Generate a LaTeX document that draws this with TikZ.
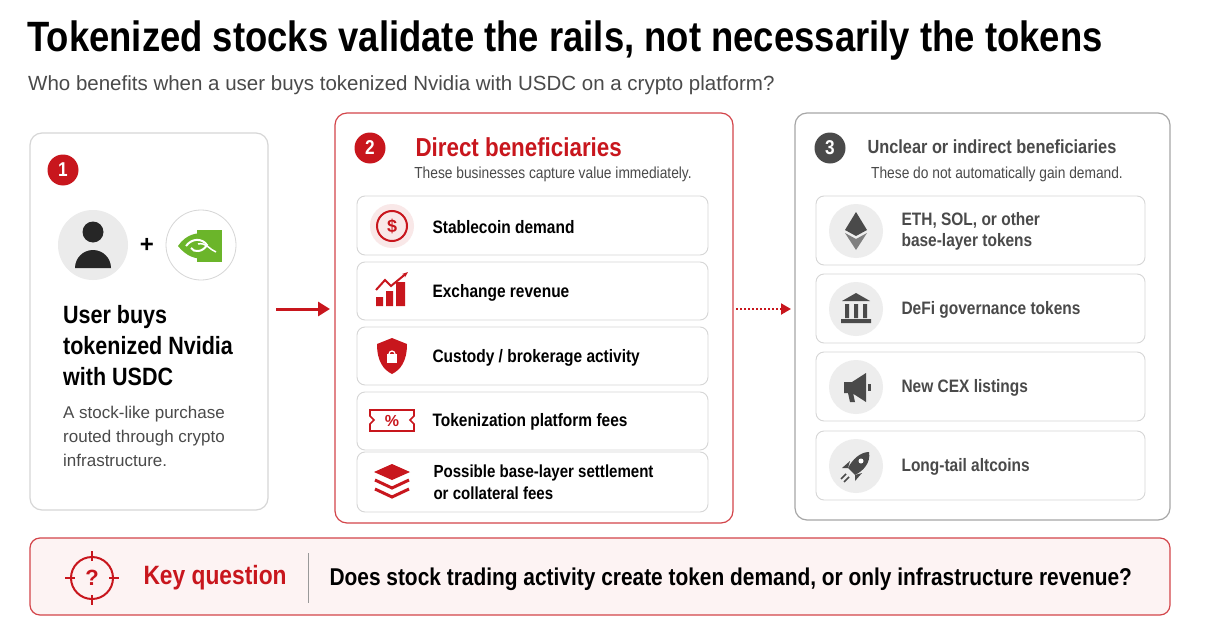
\documentclass[tikz,border=0pt]{standalone}
\usepackage{fontspec}
\setmainfont{Liberation Sans}
\newfontfamily\cond{Liberation Sans}[FakeStretch=0.86]
\usetikzlibrary{arrows.meta,shapes.geometric}
\definecolor{myred}{HTML}{C8161D}
\definecolor{mygray}{HTML}{4A4A4A}
\definecolor{lgray}{HTML}{D6D6D6}
\definecolor{pink}{HTML}{FDF3F3}
\definecolor{nvgreen}{HTML}{6BB52A}
\tikzset{
 panel/.style={draw=lgray,line width=1.2pt,rounded corners=12pt,fill=white},
 row/.style={draw=lgray,line width=0.9pt,rounded corners=8pt,fill=white},
 badge/.style={circle,fill=#1,text=white,font=\cond\bfseries\fontsize{20}{20}\selectfont,inner sep=0pt,minimum size=31pt},
 rowtxt/.style={anchor=west,font=\cond\bfseries\fontsize{18}{21}\selectfont,text=#1,align=left},
 gcirc/.style={circle,fill=black!7,minimum size=54pt,inner sep=0pt},
}
\begin{document}
\begin{tikzpicture}[x=1pt,y=-1pt]
\useasboundingbox[fill=white] (0,0) rectangle (1207,626);
% title
\node[anchor=base west,inner sep=0pt,font=\cond\bfseries\fontsize{42.4}{44}\selectfont] (title) at (27,52) {Tokenized stocks validate the rails, not necessarily the tokens};
\node[anchor=base west,inner sep=0pt,text=mygray,font=\fontsize{20.5}{20}\selectfont] (sub) at (28,90) {Who benefits when a user buys tokenized Nvidia with USDC on a crypto platform?};
% panel 1
\draw[panel] (30,133) rectangle (268,510);
\node[badge=myred] (b1) at (63,170) {1};
\node[circle,fill=black!8,minimum size=70pt] (user) at (93,245) {};
\fill[black!85] (93,232) circle (10.5);
\fill[black!85] (75,268) arc[start angle=180,end angle=360,radius=18] -- cycle;
\node[font=\bfseries\fontsize{24}{24}\selectfont] (plus) at (147,245) {+};
\node[circle,draw=lgray,fill=white,minimum size=70pt,line width=0.8pt] (nv) at (201,245) {};
\fill[nvgreen] (197,230) rectangle (222,262);
\fill[nvgreen] (178,246) .. controls (186,234) and (198,232) .. (205,234) -- (205,258) .. controls (196,260) and (186,256) .. cycle;
\draw[white,line width=2pt] (186,246) .. controls (192,238) and (202,238) .. (207,245) .. controls (203,252) and (194,253) .. (191,248);
\draw[white,line width=1.5pt] (198,244) .. controls (206,242) and (210,250) .. (216,252);
\node[anchor=north west,inner sep=0pt,font=\cond\bfseries\fontsize{25}{31}\selectfont,align=left] (p1t) at (63,305) {User buys\\tokenized Nvidia\\with USDC};
\node[anchor=north west,inner sep=0pt,text=mygray,font=\fontsize{17}{24}\selectfont,align=left] (p1s) at (63,406) {A stock-like purchase\\routed through crypto\\infrastructure.};
% arrow
\coordinate (a1s) at (276,309);
\coordinate (a1e) at (330,309);
\draw[myred,line width=3pt,-{Triangle[length=12pt,width=14pt]}] (a1s) -- (a1e);
% panel 2
\draw[panel,draw=myred!80] (335,113) rectangle (733,523);
\node[badge=myred] (b2) at (370,148) {2};
\node[anchor=west,text=myred,font=\cond\bfseries\fontsize{26}{26}\selectfont] (t2) at (412,147) {Direct beneficiaries};
\node[text=mygray,font=\cond\fontsize{16}{16}\selectfont] (s2) at (553,174) {These businesses capture value immediately.};
\foreach \a/\b in {196/255,262/320,327/385,392/450,452/512}{
 \draw[row] (357,\a) rectangle (708,\b);
}
\node[rowtxt=black] at (429,227) {Stablecoin demand};
\node[rowtxt=black] at (429,293) {Exchange revenue};
\node[rowtxt=black] at (429,358) {Custody / brokerage activity};
\node[rowtxt=black] at (429,422) {Tokenization platform fees};
\node[rowtxt=black,font=\cond\bfseries\fontsize{17.5}{22}\selectfont] at (430,482) {Possible base-layer settlement\\or collateral fees};
% icon dollar
\fill[myred!10] (392,226) circle (22);
\draw[myred,line width=2pt] (392,226) circle (15);
\node[text=myred,font=\bfseries\fontsize{18}{18}\selectfont] at (392,226) {\$};
% icon bars
\fill[myred] (376,297) rectangle (383,306) (386,291) rectangle (393,306) (396,282) rectangle (405,306);
\draw[myred,line width=2pt,-{Stealth[length=6pt]}] (376,290) -- (385,280) -- (391,286) -- (408,272);
% icon shield
\fill[myred] (392,338) -- (407,344) .. controls (407,362) and (400,370) .. (392,374) .. controls (384,370) and (377,362) .. (377,344) -- cycle;
\fill[white] (387,354) rectangle (397,363);
\draw[white,line width=1.2pt] (389,354) arc[start angle=180,end angle=360,radius=3];
% ticket
\draw[myred,line width=1.6pt] (370,410) -- (414,410) -- (414,416) -- (410,420) -- (414,424) -- (414,431) -- (370,431) -- (370,424) -- (374,420) -- (370,416) -- cycle;
\node[text=myred,font=\bfseries\fontsize{16}{16}\selectfont] at (392,421) {\%};
% layers
\fill[myred] (392,464) -- (410,472) -- (392,480) -- (374,472) -- cycle;
\draw[myred,line width=3pt] (375,480) -- (392,488) -- (409,480) (375,489) -- (392,497) -- (409,489);
% dotted arrow
\coordinate (a2s) at (736,309);
\coordinate (a2e) at (791,309);
\draw[myred,line width=2pt,dotted,-{Triangle[length=10pt,width=11pt]}] (a2s) -- (a2e);
% panel 3
\draw[panel,draw=black!35] (795,113) rectangle (1170,520);
\node[badge=mygray] (b3) at (830,148) {3};
\node[anchor=west,text=mygray,font=\cond\bfseries\fontsize{19}{19}\selectfont] (t3) at (864,147) {Unclear or indirect beneficiaries};
\node[text=mygray,font=\cond\fontsize{16}{16}\selectfont] (s3) at (997,174) {These do not automatically gain demand.};
\foreach \a/\b in {196/265,274/343,352/421,431/500}{
 \draw[row] (816,\a) rectangle (1145,\b);
}
\foreach \y in {231,309,387,466}{ \node[gcirc] at (856,\y) {}; }
\node[rowtxt=mygray] at (898,231) {ETH, SOL, or other\\base-layer tokens};
\node[rowtxt=mygray] at (898,310) {DeFi governance tokens};
\node[rowtxt=mygray] at (898,388) {New CEX listings};
\node[rowtxt=mygray] at (898,467) {Long-tail altcoins};
% eth
\fill[mygray] (856,212) -- (867,230) -- (856,236) -- (845,230) -- cycle;
\fill[mygray!70] (845,233) -- (856,239) -- (867,233) -- (856,250) -- cycle;
% bank
\fill[mygray] (842,301) -- (856,293) -- (870,301) -- cycle;
\fill[mygray] (845,304) rectangle (849,318) (854,304) rectangle (858,318) (863,304) rectangle (867,318) (841,319) rectangle (871,323);
% megaphone
\fill[mygray] (844,382) rectangle (852,393) (852,382) -- (866,373) -- (866,402) -- (852,393) -- cycle (848,393) -- (853,393) -- (855,402) -- (850,402) -- cycle;
\fill[mygray] (868,384) rectangle (871,391);
% rocket
\fill[mygray] (869,452) .. controls (860,452) and (852,460) .. (848,468) -- (855,475) .. controls (863,471) and (871,463) .. (869,452) -- cycle;
\fill[mygray] (848,468) -- (842,468) -- (850,461) -- cycle (855,475) -- (855,481) -- (862,473) -- cycle;
\draw[mygray,line width=1.5pt] (846,474) -- (841,479) (849,477) -- (844,482);
\fill[white] (861,461) circle (2.5);
% bottom bar
\draw[draw=myred!80,line width=1.2pt,fill=pink,rounded corners=10pt] (30,538) rectangle (1170,615);
\draw[myred,line width=2pt] (92,578) circle (21);
\draw[myred,line width=2pt] (92,551) -- (92,561) (92,595) -- (92,605) (65,578) -- (75,578) (109,578) -- (119,578);
\node[text=myred,font=\bfseries\fontsize{22}{22}\selectfont] at (92,578) {?};
\node[anchor=west,text=myred,font=\cond\bfseries\fontsize{26.5}{26}\selectfont] (kq) at (140,578) {Key question};
\draw[black!40,line width=1pt] (308,553) -- (308,603);
\node[anchor=west,font=\cond\bfseries\fontsize{24.3}{24}\selectfont] (q) at (326,579) {Does stock trading activity create token demand, or only infrastructure revenue?};
\end{tikzpicture}
\end{document}
